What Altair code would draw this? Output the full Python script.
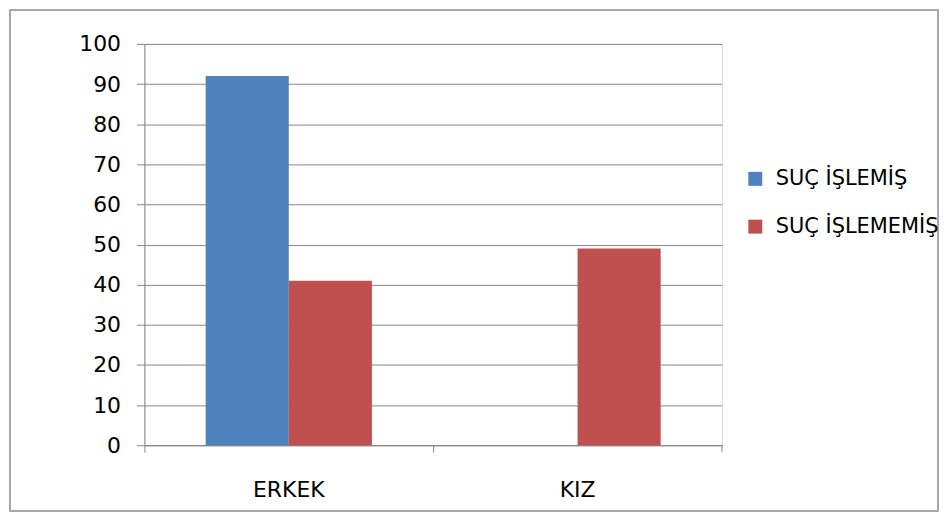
import altair as alt
import pandas as pd

categories = ["ERKEK", "KIZ"]
series_names = ["SUÇ İŞLEMİŞ", "SUÇ İŞLEMEMİŞ"]
islemis = [92, 0]
islememis = [41, 49]
colors = ["#4F81BD", "#C0504D"]
y_ticks = [0, 10, 20, 30, 40, 50, 60, 70, 80, 90, 100]

rows = []
for i, c in enumerate(categories):
    rows.append({"cat": c, "series": series_names[0], "value": islemis[i]})
    rows.append({"cat": c, "series": series_names[1], "value": islememis[i]})
df = pd.DataFrame(rows)

FONT = "DejaVu Sans"
W, H = 580, 403

bars = alt.Chart(df).mark_bar().encode(
    x=alt.X("cat:N", sort=categories, title=None,
            scale=alt.Scale(paddingInner=0, paddingOuter=0),
            axis=alt.Axis(labelAngle=0, bandPosition=0, ticks=True, tickSize=7,
                          tickColor="#868686", domainColor="#868686",
                          labelPadding=28, labelFontSize=22, labelFont=FONT,
                          labelColor="#000000", grid=False, labelBound=False,
                          labelFlush=False)),
    xOffset=alt.XOffset("series:N", sort=series_names,
                        scale=alt.Scale(paddingInner=0, paddingOuter=0.737)),
    y=alt.Y("value:Q", title=None,
            scale=alt.Scale(domain=[0, 100], nice=False),
            axis=alt.Axis(values=y_ticks, tickSize=8, tickColor="#868686",
                          domainColor="#868686", gridColor="#868686",
                          labelPadding=16, labelFontSize=22, labelFont=FONT,
                          labelColor="#000000", grid=True)),
    color=alt.Color("series:N", sort=series_names,
                    scale=alt.Scale(domain=series_names, range=colors),
                    legend=alt.Legend(title=None, orient="none", legendX=603,
                                      legendY=125, symbolType="square",
                                      symbolSize=196, symbolStrokeWidth=0,
                                      labelFontSize=21, labelFont=FONT,
                                      labelColor="#000000", rowPadding=26,
                                      labelOffset=10, labelLimit=400)),
)

end_tick = alt.Chart(pd.DataFrame({"a": [0]})).mark_rule(
    color="#868686", strokeWidth=1
).encode(x=alt.value(580), y=alt.value(403), y2=alt.value(410))

frame = alt.Chart(pd.DataFrame({"a": [0]})).mark_rect(
    fill=None, stroke="#8C8C8C", strokeWidth=1.5
).encode(
    x=alt.value(-135), x2=alt.value(797),
    y=alt.value(-34), y2=alt.value(469),
)

chart = alt.layer(bars, end_tick, frame).properties(
    width=W, height=H,
    autosize=alt.AutoSizeParams(type="none"),
    padding={"left": 137, "top": 35, "right": 218, "bottom": 68},
).configure_view(stroke=None).configure(background="white")

chart.save("out.html", embed_options={"renderer": "svg", "actions": False})
